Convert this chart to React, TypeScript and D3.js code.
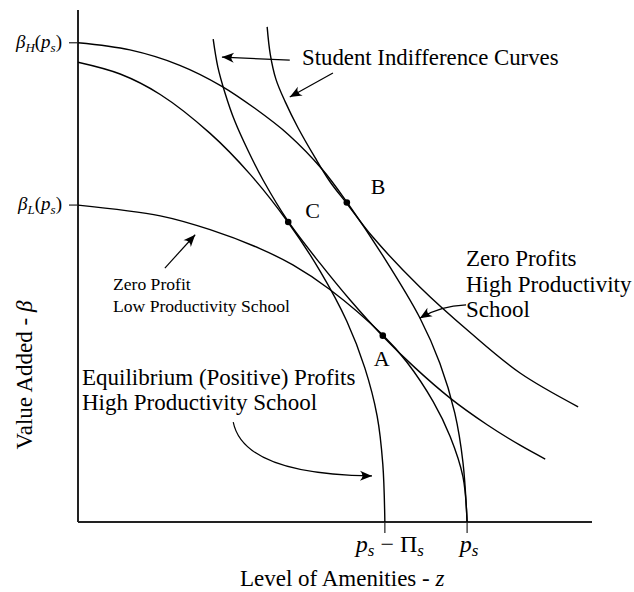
import { useEffect, useRef } from "react";
import * as d3 from "d3";

type Pt = [number, number];

// plot units: z (amenities) and beta (value added), both 0-100 across the axes
const P_S = 75.7;
const P_S_MINUS_PI = 59.7;
const BETA_H = 93.6;
const BETA_L = 61.9;

// zero profit frontier, high productivity school
const zeroProfitHigh: Pt[] = [
  [0, 93.6], [10.1, 92.2], [19.8, 89.2], [28.0, 85.1], [34.4, 80.8], [40.9, 75.7],
  [47.5, 68.9], [52.3, 62.5], [59.7, 51.4], [66.5, 39.9], [70.4, 31.0], [73.3, 21.3],
  [74.9, 11.6], [75.7, 0],
];

// equilibrium (positive) profits frontier, high productivity school
const equilibriumHigh: Pt[] = [
  [0, 89.8], [8.2, 87.5], [16.0, 83.5], [25.7, 75.9], [33.5, 67.9], [40.9, 58.5],
  [47.1, 49.0], [52.3, 39.2], [55.8, 30.1], [58.2, 20.7], [59.3, 11.3], [59.7, 0],
];

// zero profit frontier, low productivity school
const zeroProfitLow: Pt[] = [
  [0, 61.9], [16.0, 59.8], [25.7, 57.1], [35.4, 53.4], [41.8, 50.2], [49.0, 45.4],
  [59.3, 36.5], [64.0, 31.2], [69.1, 23.5], [72.4, 16.7], [74.9, 8.8], [75.7, 0],
];

// student indifference curves
const indifferenceInner: Pt[] = [
  [26.3, 94.3], [27.2, 88.9], [28.6, 83.8], [30.5, 78.3], [33.1, 72.5], [36.0, 66.8],
  [40.9, 58.7], [47.1, 50.5], [52.9, 43.4], [59.3, 36.3], [65.6, 30.1], [72.4, 24.2],
  [79.6, 19.0], [86.0, 15.0], [90.9, 12.3],
];
const indifferenceOuter: Pt[] = [
  [36.8, 96.7], [37.4, 91.4], [38.5, 86.5], [40.3, 82.1], [42.8, 77.0], [46.1, 71.2],
  [49.0, 66.5], [52.3, 62.2], [57.4, 55.6], [66.5, 45.9], [76.3, 37.0], [86.0, 29.1],
  [97.3, 22.5],
];

const tangencyNames = ["A", "B", "C"];
const tangencyZ = [59.3, 52.3, 40.9];
const tangencyBeta = [36.4, 62.4, 58.6];

// annotation arrows [tail, (controls...), tip]
const arrowStudent1: Pt[] = [[41.2, 90.2], [28.0, 90.8]];
const arrowStudent2: Pt[] = [[49.6, 87.7], [41.2, 83.0]];
const arrowLow: Pt[] = [[16.9, 49.6], [22.8, 56.1]];
const arrowZeroHigh: Pt[] = [[75.5, 42.4], [70.4, 42.2], [66.5, 39.8]];
const arrowEquilibrium: Pt[] = [[30.2, 19.5], [31.5, 13.1], [39.3, 9.2], [57.2, 9.0]];

const W = 634;
const H = 592;
const FONT = "'Liberation Serif', 'Times New Roman', serif";

export default function App() {
  const svgRef = useRef<SVGSVGElement>(null);

  useEffect(() => {
    document.body.style.margin = "0";
    if (!svgRef.current) return;
    const svg = d3.select(svgRef.current);
    svg.selectAll("*").remove();

    const x = d3.scaleLinear().domain([0, 100]).range([78, 592]);
    const y = d3.scaleLinear().domain([0, 100]).range([522, 10]);

    const line = d3
      .line<Pt>()
      .x((d) => x(d[0]))
      .y((d) => y(d[1]))
      .curve(d3.curveCatmullRom.alpha(0.5));

    const g = svg.append("g").attr("font-family", FONT).attr("fill", "#000");

    // axes
    g.append("line")
      .attr("x1", x(0)).attr("y1", y(100)).attr("x2", x(0)).attr("y2", y(0))
      .attr("stroke", "#222").attr("stroke-width", 2);
    g.append("line")
      .attr("x1", x(0)).attr("y1", y(0)).attr("x2", x(100)).attr("y2", y(0))
      .attr("stroke", "#222").attr("stroke-width", 2);

    // ticks
    [BETA_H, BETA_L].forEach((b) => {
      g.append("line")
        .attr("x1", x(0) - 9).attr("x2", x(0)).attr("y1", y(b)).attr("y2", y(b))
        .attr("stroke", "#222").attr("stroke-width", 1.2);
    });
    [P_S_MINUS_PI, P_S].forEach((z) => {
      g.append("line")
        .attr("x1", x(z)).attr("x2", x(z)).attr("y1", y(0)).attr("y2", y(0) + 11)
        .attr("stroke", "#222").attr("stroke-width", 1.2);
    });

    // y tick labels
    const yLab = (b: number, sub: string) => {
      const t = g.append("text")
        .attr("x", x(0) - 16).attr("y", y(b) + 5)
        .attr("text-anchor", "end").attr("font-size", 19);
      t.append("tspan").attr("font-style", "italic").text("β");
      t.append("tspan").attr("font-style", "italic").attr("font-size", 13).attr("dy", 4).text(sub);
      t.append("tspan").attr("dy", -4).text("(");
      t.append("tspan").attr("font-style", "italic").text("p");
      t.append("tspan").attr("font-style", "italic").attr("font-size", 13).attr("dy", 4).text("s");
      t.append("tspan").attr("dy", -4).text(")");
    };
    yLab(BETA_H, "H");
    yLab(BETA_L, "L");

    // x tick labels
    const xl1 = g.append("text")
      .attr("x", x(P_S_MINUS_PI) + 5).attr("y", y(0) + 30)
      .attr("text-anchor", "middle").attr("font-size", 24)
      .attr("xml:space", "preserve");
    xl1.append("tspan").attr("font-style", "italic").text("p");
    xl1.append("tspan").attr("font-style", "italic").attr("font-size", 17).attr("dy", 4).text("s");
    xl1.append("tspan").attr("dy", -4).text(" − Π");
    xl1.append("tspan").attr("font-style", "italic").attr("font-size", 17).attr("dy", 4).text("s");

    const xl2 = g.append("text")
      .attr("x", x(P_S) + 2).attr("y", y(0) + 30)
      .attr("text-anchor", "middle").attr("font-size", 24);
    xl2.append("tspan").attr("font-style", "italic").text("p");
    xl2.append("tspan").attr("font-style", "italic").attr("font-size", 17).attr("dy", 4).text("s");

    // curves
    [zeroProfitHigh, equilibriumHigh, zeroProfitLow, indifferenceInner, indifferenceOuter].forEach((c) => {
      g.append("path")
        .attr("d", line(c) ?? "")
        .attr("fill", "none")
        .attr("stroke", "#000")
        .attr("stroke-width", 1.4);
    });

    // tangency points
    tangencyNames.forEach((_n, i) => {
      g.append("circle")
        .attr("cx", x(tangencyZ[i])).attr("cy", y(tangencyBeta[i]))
        .attr("r", 3.3).attr("fill", "#000");
    });
    const ptLabelOffset: Record<string, [number, number]> = { A: [-9, 30], B: [24, -9], C: [17, -4] };
    tangencyNames.forEach((n, i) => {
      const [dx, dy] = ptLabelOffset[n];
      g.append("text")
        .attr("x", x(tangencyZ[i]) + dx).attr("y", y(tangencyBeta[i]) + dy)
        .attr("font-size", 22).text(n);
    });

    // arrows
    const head = (tip: Pt, from: Pt) => {
      const a = (Math.atan2(y(tip[1]) - y(from[1]), x(tip[0]) - x(from[0])) * 180) / Math.PI;
      g.append("path")
        .attr("d", "M0,0 L-12,-5 Q-7,0 -12,5 Z")
        .attr("transform", `translate(${x(tip[0])},${y(tip[1])}) rotate(${a})`)
        .attr("fill", "#000");
    };
    const arrow = (pts: Pt[]) => {
      const p = d3.path();
      const P = pts.map((d) => [x(d[0]), y(d[1])] as [number, number]);
      p.moveTo(P[0][0], P[0][1]);
      if (P.length === 2) p.lineTo(P[1][0], P[1][1]);
      else if (P.length === 3) p.quadraticCurveTo(P[1][0], P[1][1], P[2][0], P[2][1]);
      else p.bezierCurveTo(P[1][0], P[1][1], P[2][0], P[2][1], P[3][0], P[3][1]);
      g.append("path").attr("d", p.toString()).attr("fill", "none")
        .attr("stroke", "#000").attr("stroke-width", 1.2);
      head(pts[pts.length - 1], pts[pts.length - 2]);
    };
    [arrowStudent1, arrowStudent2, arrowLow, arrowZeroHigh, arrowEquilibrium].forEach(arrow);

    // annotations
    const txt = (s: string, tx: number, ty: number, size: number) =>
      g.append("text").attr("x", tx).attr("y", ty).attr("font-size", size).text(s);

    txt("Student Indifference Curves", 302, 65, 22.8);
    txt("Zero Profits", 466, 266, 23);
    txt("High Productivity", 466, 292, 23);
    txt("School", 466, 317, 23);
    txt("Zero Profit", 113, 290, 17.6);
    txt("Low Productivity School", 113, 312, 17.6);
    txt("Equilibrium (Positive) Profits", 82, 385, 23);
    txt("High Productivity School", 82, 410, 23);

    const xt = g.append("text").attr("x", 240).attr("y", 586).attr("font-size", 23);
    xt.append("tspan").text("Level of Amenities - ");
    xt.append("tspan").attr("font-style", "italic").text("z");

    const yt = g.append("text")
      .attr("transform", `translate(32,375) rotate(-90)`)
      .attr("text-anchor", "middle").attr("font-size", 23);
    yt.append("tspan").text("Value Added - ");
    yt.append("tspan").attr("font-style", "italic").text("β");
  }, []);

  return (
    <svg
      ref={svgRef}
      width={W}
      height={H}
      style={{ display: "block", background: "#fff" }}
    />
  );
}
